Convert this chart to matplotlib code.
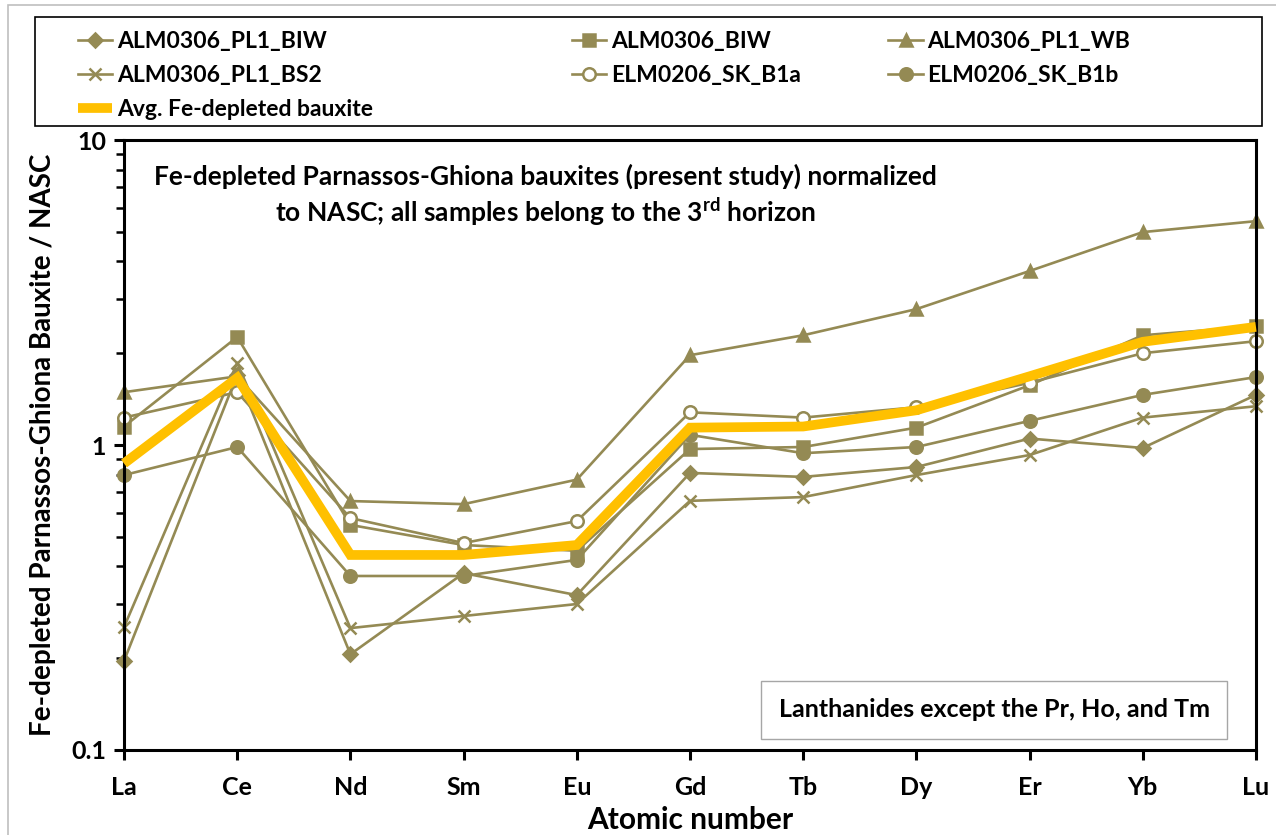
import matplotlib
matplotlib.use('Agg')
import matplotlib.pyplot as plt
from matplotlib.patches import Rectangle
from matplotlib.ticker import LogLocator, NullFormatter, FixedLocator, FixedFormatter

plt.rcParams['font.family'] = ['Lato', 'DejaVu Sans']
plt.rcParams['font.weight'] = 'bold'
plt.rcParams['mathtext.fontset'] = 'custom'
plt.rcParams['mathtext.rm'] = 'Lato:bold'
plt.rcParams['mathtext.bf'] = 'Lato:bold'

elements = ['La', 'Ce', 'Nd', 'Sm', 'Eu', 'Gd', 'Tb', 'Dy', 'Er', 'Yb', 'Lu']

pl1_biw = [0.196, 1.70, 0.206, 0.38, 0.322, 0.81, 0.786, 0.847, 1.05, 0.978, 1.46]
biw = [1.15, 2.26, 0.547, 0.47, 0.45, 0.97, 0.985, 1.14, 1.57, 2.29, 2.45]
pl1_wb = [1.49, 1.68, 0.655, 0.64, 0.77, 1.97, 2.29, 2.79, 3.72, 4.99, 5.42]
pl1_bs2 = [0.253, 1.86, 0.251, 0.275, 0.301, 0.656, 0.675, 0.797, 0.927, 1.23, 1.34]
sk_b1a = [1.23, 1.49, 0.576, 0.477, 0.563, 1.28, 1.23, 1.33, 1.60, 2.00, 2.19]
sk_b1b = [0.797, 0.985, 0.372, 0.372, 0.42, 1.08, 0.94, 0.985, 1.20, 1.46, 1.67]
avg = [0.87, 1.66, 0.436, 0.436, 0.47, 1.14, 1.15, 1.30, 1.68, 2.18, 2.44]

olive = '#948A54'
gold = '#FFC000'

series = [
    ('ALM0306_PL1_BIW', pl1_biw, 'D', olive, 7),
    ('ALM0306_BIW', biw, 's', olive, 9),
    ('ALM0306_PL1_WB', pl1_wb, '^', olive, 9),
    ('ALM0306_PL1_BS2', pl1_bs2, 'x', olive, 9),
    ('ELM0206_SK_B1a', sk_b1a, 'o', 'white', 9),
    ('ELM0206_SK_B1b', sk_b1b, 'o', olive, 9),
]

fig = plt.figure(figsize=(12.76, 8.35), dpi=100)
ax = fig.add_axes([0.0972, 0.1018, 0.8871, 0.7305])

x = list(range(len(elements)))
handles = []
for name, vals, mk, fc, ms in series:
    h, = ax.plot(x, vals, color=olive, lw=1.9, marker=mk, markersize=ms,
                 markerfacecolor=fc, markeredgecolor=olive, markeredgewidth=1.8,
                 label=name, clip_on=False)
    handles.append(h)
h, = ax.plot(x, avg, color=gold, lw=7, label='Avg. Fe-depleted bauxite',
             solid_capstyle='butt', solid_joinstyle='miter', clip_on=False, zorder=5)
handles.append(h)

ax.set_yscale('log')
ax.set_ylim(0.1, 10)
ax.set_xlim(0, len(elements) - 1)
ax.yaxis.set_major_locator(FixedLocator([0.1, 1, 10]))
ax.yaxis.set_major_formatter(FixedFormatter(['0.1', '1', '10']))
ax.yaxis.set_minor_locator(LogLocator(base=10, subs=range(2, 10)))
ax.yaxis.set_minor_formatter(NullFormatter())
ax.set_xticks(x)
ax.set_xticklabels(elements)

for sp in ax.spines.values():
    sp.set_linewidth(2.2)
ax.tick_params(axis='both', which='major', direction='out', length=7, width=2.2,
               labelsize=18, pad=12)
ax.tick_params(axis='y', which='major', pad=6)
ax.tick_params(axis='y', which='minor', direction='out', length=6, width=1.8)

ax.set_xlabel('Atomic number', fontsize=21.5, fontweight='bold', labelpad=5)
ax.set_ylabel('Fe-depleted Parnassos-Ghiona Bauxite / NASC', fontsize=20,
              fontweight='bold', labelpad=11)

ax.text(0.372, 0.962,
        'Fe-depleted Parnassos-Ghiona bauxites (present study) normalized\n'
        'to NASC; all samples belong to the 3$^{\\mathbf{rd}}$ horizon',
        transform=ax.transAxes, ha='center', va='top', fontsize=19,
        fontweight='bold', linespacing=1.25)

ax.text(0.7686, 0.0656, 'Lanthanides except the Pr, Ho, and Tm',
        transform=ax.transAxes, ha='center', va='center', fontsize=18,
        fontweight='bold',
        bbox=dict(boxstyle='square,pad=0.7', fc='white', ec='#a6a6a6', lw=1))

# outer chart border and legend box
fig.add_artist(Rectangle((0.0063, -0.01), 1.0, 1.004, transform=fig.transFigure,
                         fill=False, ec='#bfbfbf', lw=1.2))
fig.add_artist(Rectangle((0.0274, 0.849), 0.9616, 0.131, transform=fig.transFigure,
                         fill=False, ec='black', lw=1.2))

cols = [[handles[0], handles[3], handles[6]],
        [handles[1], handles[4]],
        [handles[2], handles[5]]]
xpos = [0.054, 0.441, 0.689]
for hs, xp in zip(cols, xpos):
    fig.legend(handles=hs, labels=[h.get_label() for h in hs], loc='upper left',
               bbox_to_anchor=(xp, 0.974), frameon=False, fontsize=16.5,
               handlelength=1.5, handletextpad=0.2, labelspacing=0.58,
               borderaxespad=0)

fig.savefig('out.png', dpi=100)
